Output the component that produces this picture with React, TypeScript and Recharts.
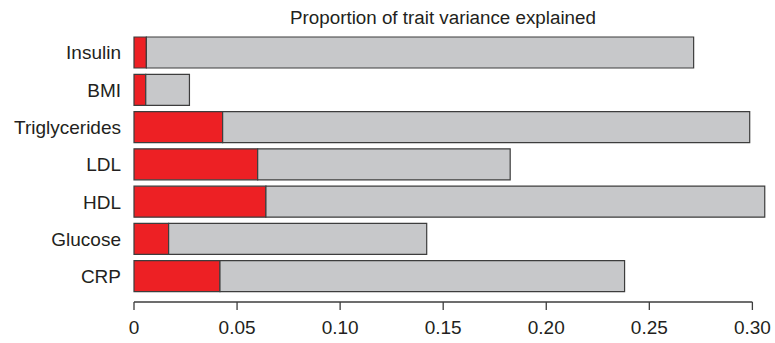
import { BarChart, Bar, XAxis, YAxis, ReferenceArea } from "recharts";

const traits = ["Insulin", "BMI", "Triglycerides", "LDL", "HDL", "Glucose", "CRP"];
// red segment: share explained by the highlighted component
const highlighted = [0.006, 0.0057, 0.043, 0.06, 0.064, 0.0168, 0.0417];
// full bar length
const totals = [0.2715, 0.0269, 0.2987, 0.1825, 0.306, 0.142, 0.238];
const xTicks = [0, 0.05, 0.1, 0.15, 0.2, 0.25, 0.3];
const xTickLabels = ["0", "0.05", "0.10", "0.15", "0.20", "0.25", "0.30"];

const rows = traits.map((name, i) => ({
  name,
  part: highlighted[i],
  rest: totals[i] - highlighted[i],
}));

const FONT = "'Liberation Sans', Arial, Helvetica, sans-serif";
const INK = "#231f20";
const EDGE = "#3d3d3d";

// draws only the bottom edge of the area: an axis line that stops at the last tick
function AxisBase(props: any) {
  const { x, y, width, height } = props;
  const yb = Math.max(y, y + height);
  return <line x1={x} x2={x + width} y1={yb} y2={yb} stroke={EDGE} strokeWidth={1.3} />;
}

export default function App() {
  return (
    <div style={{ position: "absolute", left: 0, top: 0, width: 775, height: 343, background: "#fff", fontFamily: FONT }}>
      <div
        style={{
          position: "absolute",
          left: 443,
          top: 8,
          transform: "translateX(-50%)",
          whiteSpace: "nowrap",
          fontSize: 18.8,
          lineHeight: "20px",
          color: INK,
        }}
      >
        Proportion of trait variance explained
      </div>
      <BarChart
        width={775}
        height={343}
        data={rows}
        layout="vertical"
        margin={{ top: 34, right: 2, left: 0, bottom: 0 }}
        barSize={31}
      >
        <XAxis
          type="number"
          domain={[0, 0.31]}
          ticks={xTicks}
          tickFormatter={(v: number) => xTickLabels[xTicks.indexOf(v)] ?? String(v)}
          axisLine={false}
          tickLine={{ stroke: EDGE, strokeWidth: 1.3 }}
          tickSize={8}
          tickMargin={11}
          height={41}
          tick={{ fontSize: 19, fill: INK, fontFamily: FONT }}
          interval={0}
        />
        <YAxis
          type="category"
          dataKey="name"
          width={134}
          axisLine={false}
          tickLine={false}
          tickSize={0}
          tickMargin={13}
          padding={{ top: 0, bottom: 7 }}
          tick={{ fontSize: 19, fill: INK, fontFamily: FONT }}
          interval={0}
        />
        {/* unpadded helper axis spanning the full plot height */}
        <YAxis yAxisId="frame" type="number" hide />
        <ReferenceArea yAxisId="frame" x1={0} x2={0.3} shape={AxisBase} />
        <Bar dataKey="part" stackId="v" fill="#ed2024" stroke={EDGE} strokeWidth={1.2} isAnimationActive={false} />
        <Bar dataKey="rest" stackId="v" fill="#c7c8ca" stroke={EDGE} strokeWidth={1.2} isAnimationActive={false} />
      </BarChart>
    </div>
  );
}
